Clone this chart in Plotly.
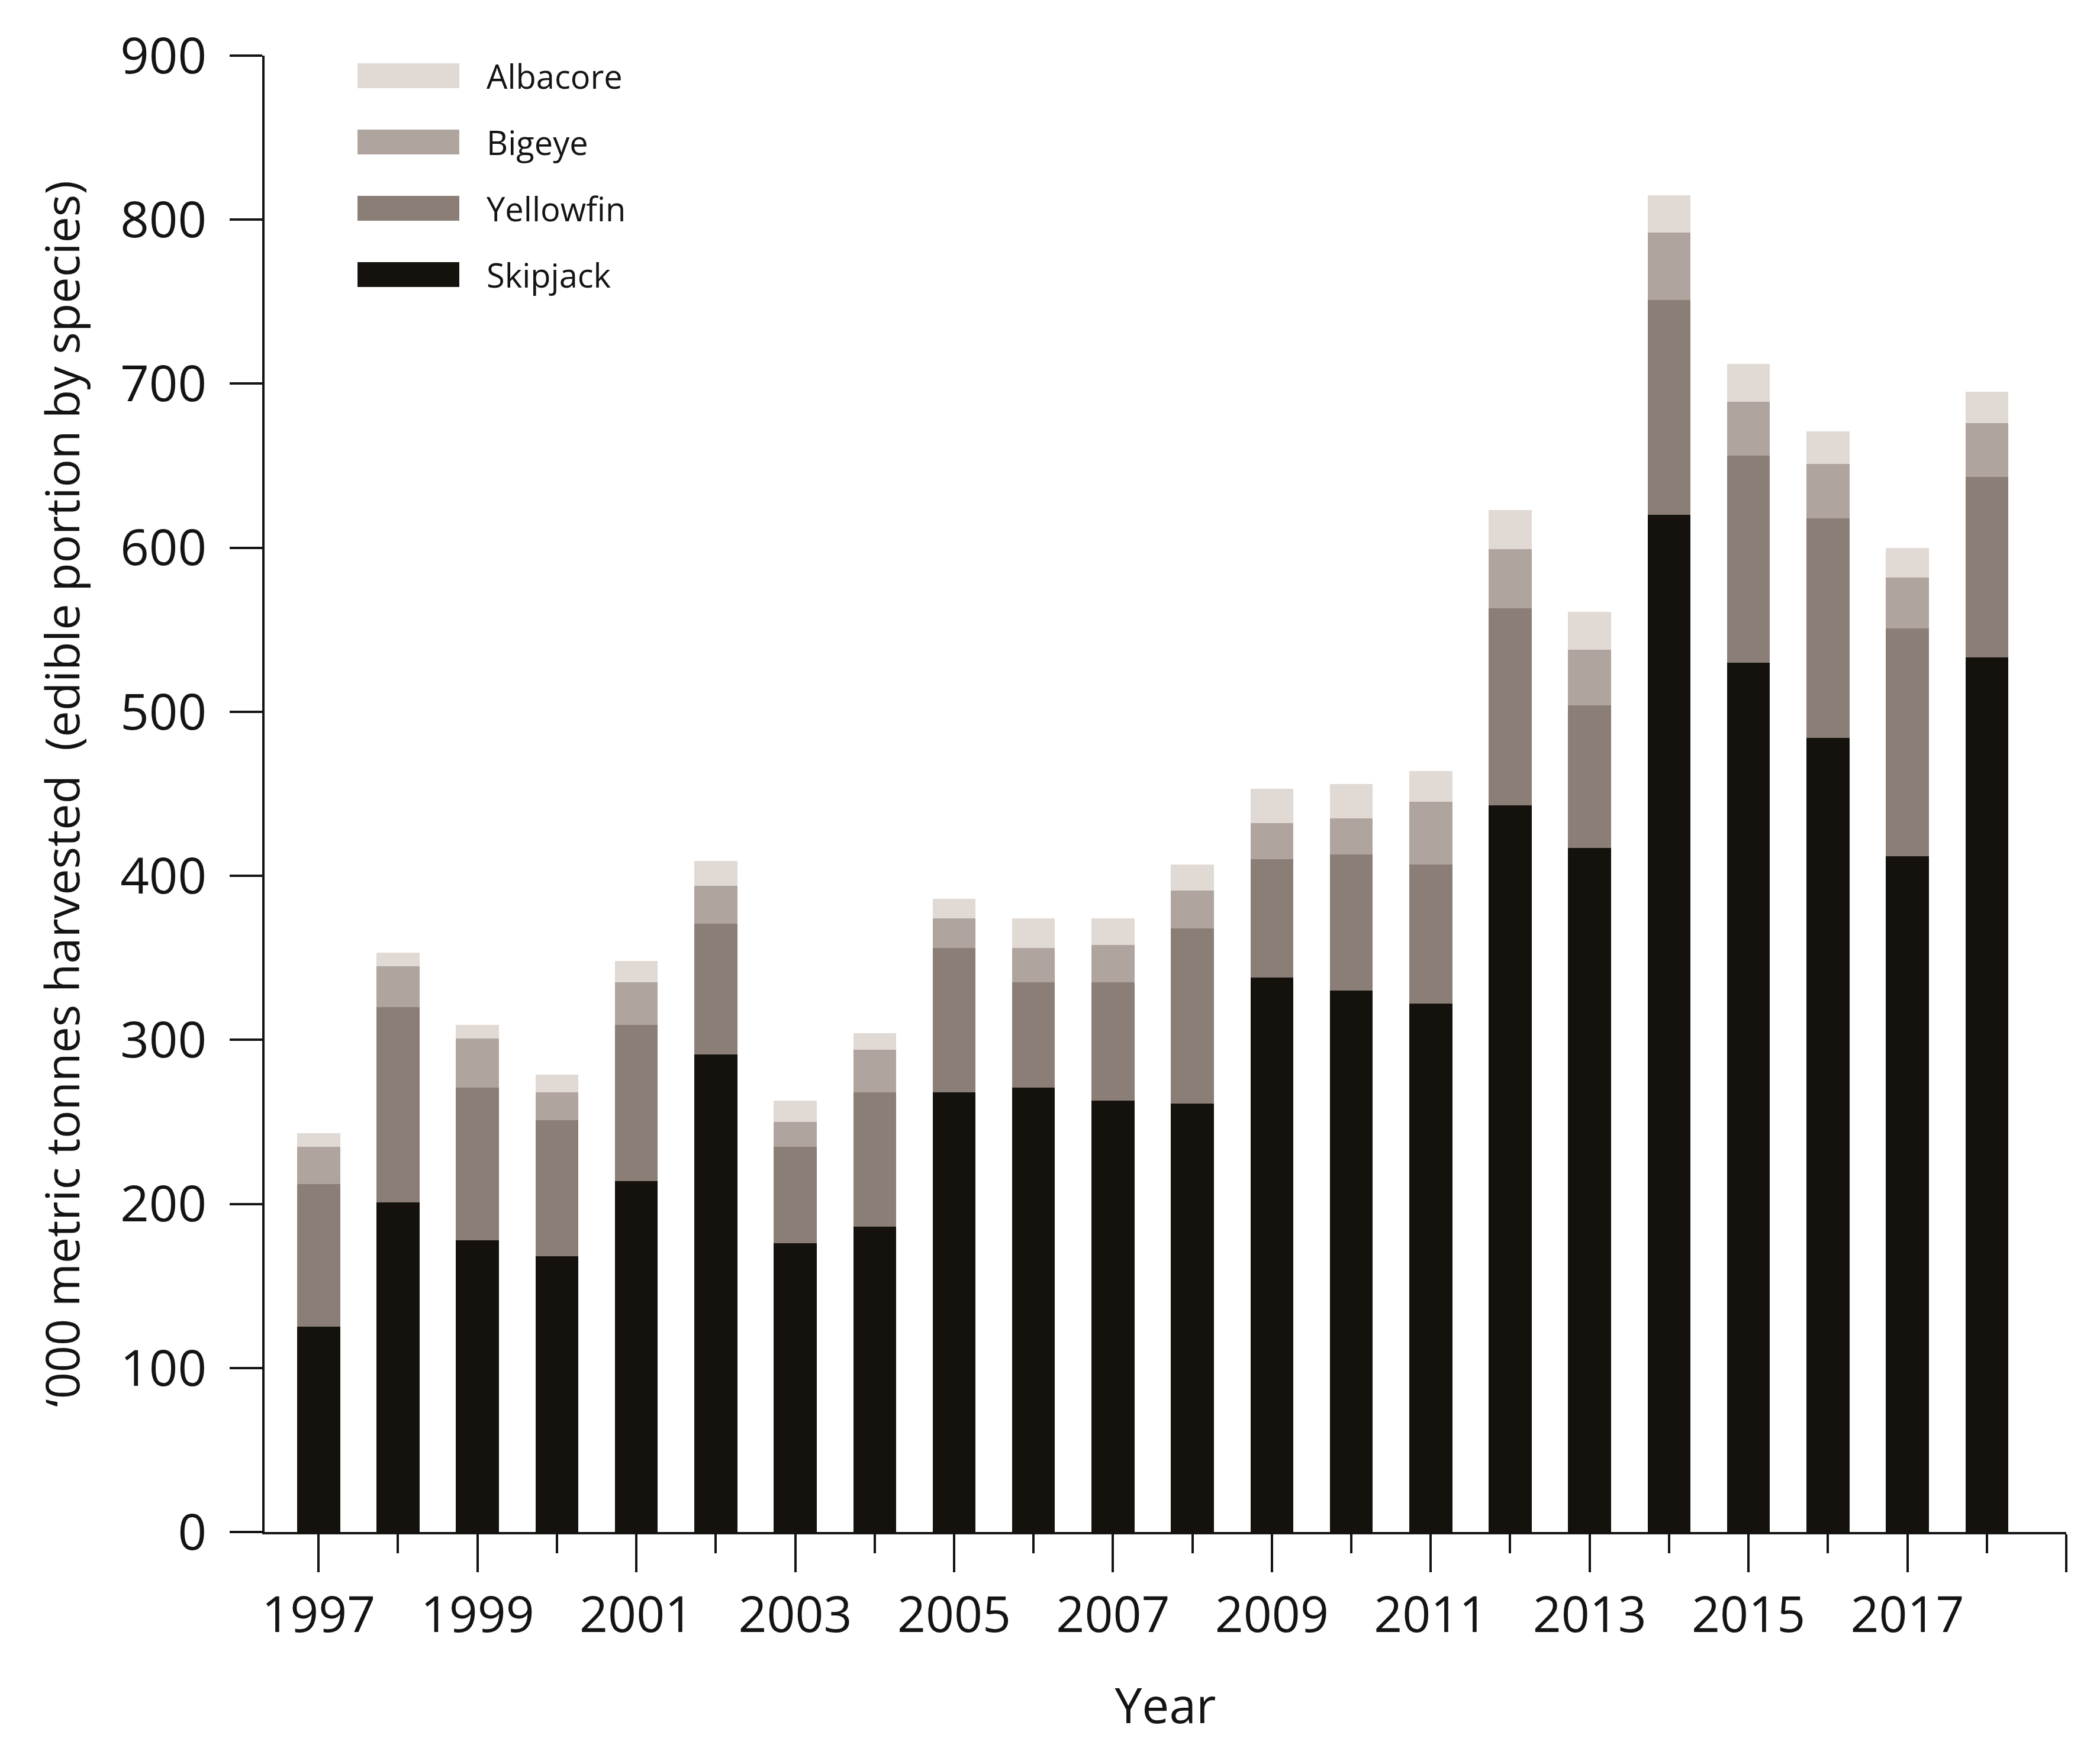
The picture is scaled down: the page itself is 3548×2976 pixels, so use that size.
import plotly.graph_objects as go

# ---- data (thousand tonnes) ----
years = list(range(1997, 2019))
skipjack = [125, 201, 178, 168, 214, 291, 176, 186, 268, 271, 263, 261, 338, 330, 322, 443, 417, 620, 530, 484, 412, 533]
yellowfin = [87, 119, 93, 83, 95, 80, 59, 82, 88, 64, 72, 107, 72, 83, 85, 120, 87, 131, 126, 134, 139, 110]
bigeye = [23, 25, 30, 17, 26, 23, 15, 26, 18, 21, 23, 23, 22, 22, 38, 36, 34, 41, 33, 33, 31, 33]
albacore = [8, 8, 8, 11, 13, 15, 13, 10, 12, 18, 16, 16, 21, 21, 19, 24, 23, 23, 23, 20, 18, 19]

species = ["Skipjack", "Yellowfin", "Bigeye", "Albacore"]
series = [skipjack, yellowfin, bigeye, albacore]
colors = ["#15120d", "#8a7e77", "#b0a49e", "#e0d9d4"]

major_years = list(range(1997, 2020, 2))
major_labels = [str(y) if y <= 2017 else "" for y in major_years]
minor_years = list(range(1998, 2019, 2))
y_ticks = list(range(0, 901, 100))

# ---- layout constants (pixels) ----
W, H = 3548, 2976
L, R, T, B = 439, 65, 86, 395
PW, PH = W - L - R, H - T - B
FONT = "Open Sans"
INK = "#141414"


def px_x(p):
    return (p - L) / PW


def px_y(p):
    return (H - B - p) / PH


fig = go.Figure()
for name, vals, col in zip(species, series, colors):
    fig.add_trace(go.Bar(
        x=years, y=vals, name=name,
        marker=dict(color=col, line=dict(width=0)),
        showlegend=False,
    ))

# ---- custom legend (top row = Albacore) ----
box_x0, box_x1 = 596, 768
row0_y, row_step, box_h = 120, 112, 42
text_x = 812
shapes, annotations = [], []
for i, (name, col) in enumerate(zip(species[::-1], colors[::-1])):
    cy = row0_y + i * row_step
    shapes.append(dict(
        type="rect", xref="paper", yref="paper",
        x0=px_x(box_x0), x1=px_x(box_x1),
        y0=px_y(cy + box_h / 2), y1=px_y(cy - box_h / 2),
        fillcolor=col, line=dict(width=0), layer="above",
    ))
    annotations.append(dict(
        text=name, xref="paper", yref="paper",
        x=px_x(text_x), y=px_y(cy), xanchor="left", yanchor="middle",
        showarrow=False, font=dict(family=FONT, size=56, color=INK),
    ))

fig.update_layout(
    width=W, height=H,
    margin=dict(l=L, r=R, t=T, b=B, pad=0),
    barmode="stack", bargap=0.46,
    paper_bgcolor="white", plot_bgcolor="white",
    font=dict(family=FONT, color=INK),
    shapes=shapes, annotations=annotations,
    showlegend=False,
)

fig.update_xaxes(
    range=[1996.32, 2019.0],
    tickmode="array", tickvals=major_years, ticktext=major_labels,
    ticks="outside", ticklen=64, tickwidth=4, tickcolor=INK,
    minor=dict(tickmode="array", tickvals=minor_years, ticks="outside",
               ticklen=32, tickwidth=4, tickcolor=INK, showgrid=False),
    showline=True, linecolor=INK, linewidth=4,
    showgrid=False, zeroline=False,
    tickfont=dict(family=FONT, size=84, color=INK),
    title=dict(text="Year", font=dict(family=FONT, size=82, color=INK), standoff=74),
    automargin=False,
)

fig.update_yaxes(
    range=[0, 900],
    tickmode="array", tickvals=y_ticks,
    ticks="outside", ticklen=55, tickwidth=4, tickcolor=INK,
    ticklabelstandoff=22,
    showline=True, linecolor=INK, linewidth=4,
    showgrid=False, zeroline=False,
    tickfont=dict(family=FONT, size=85, color=INK),
    title=dict(text="\u2018000 metric tonnes harvested  (edible portion by species)",
               font=dict(family=FONT, size=79, color=INK), standoff=44),
    automargin=False,
)

fig.write_html("out.html")
